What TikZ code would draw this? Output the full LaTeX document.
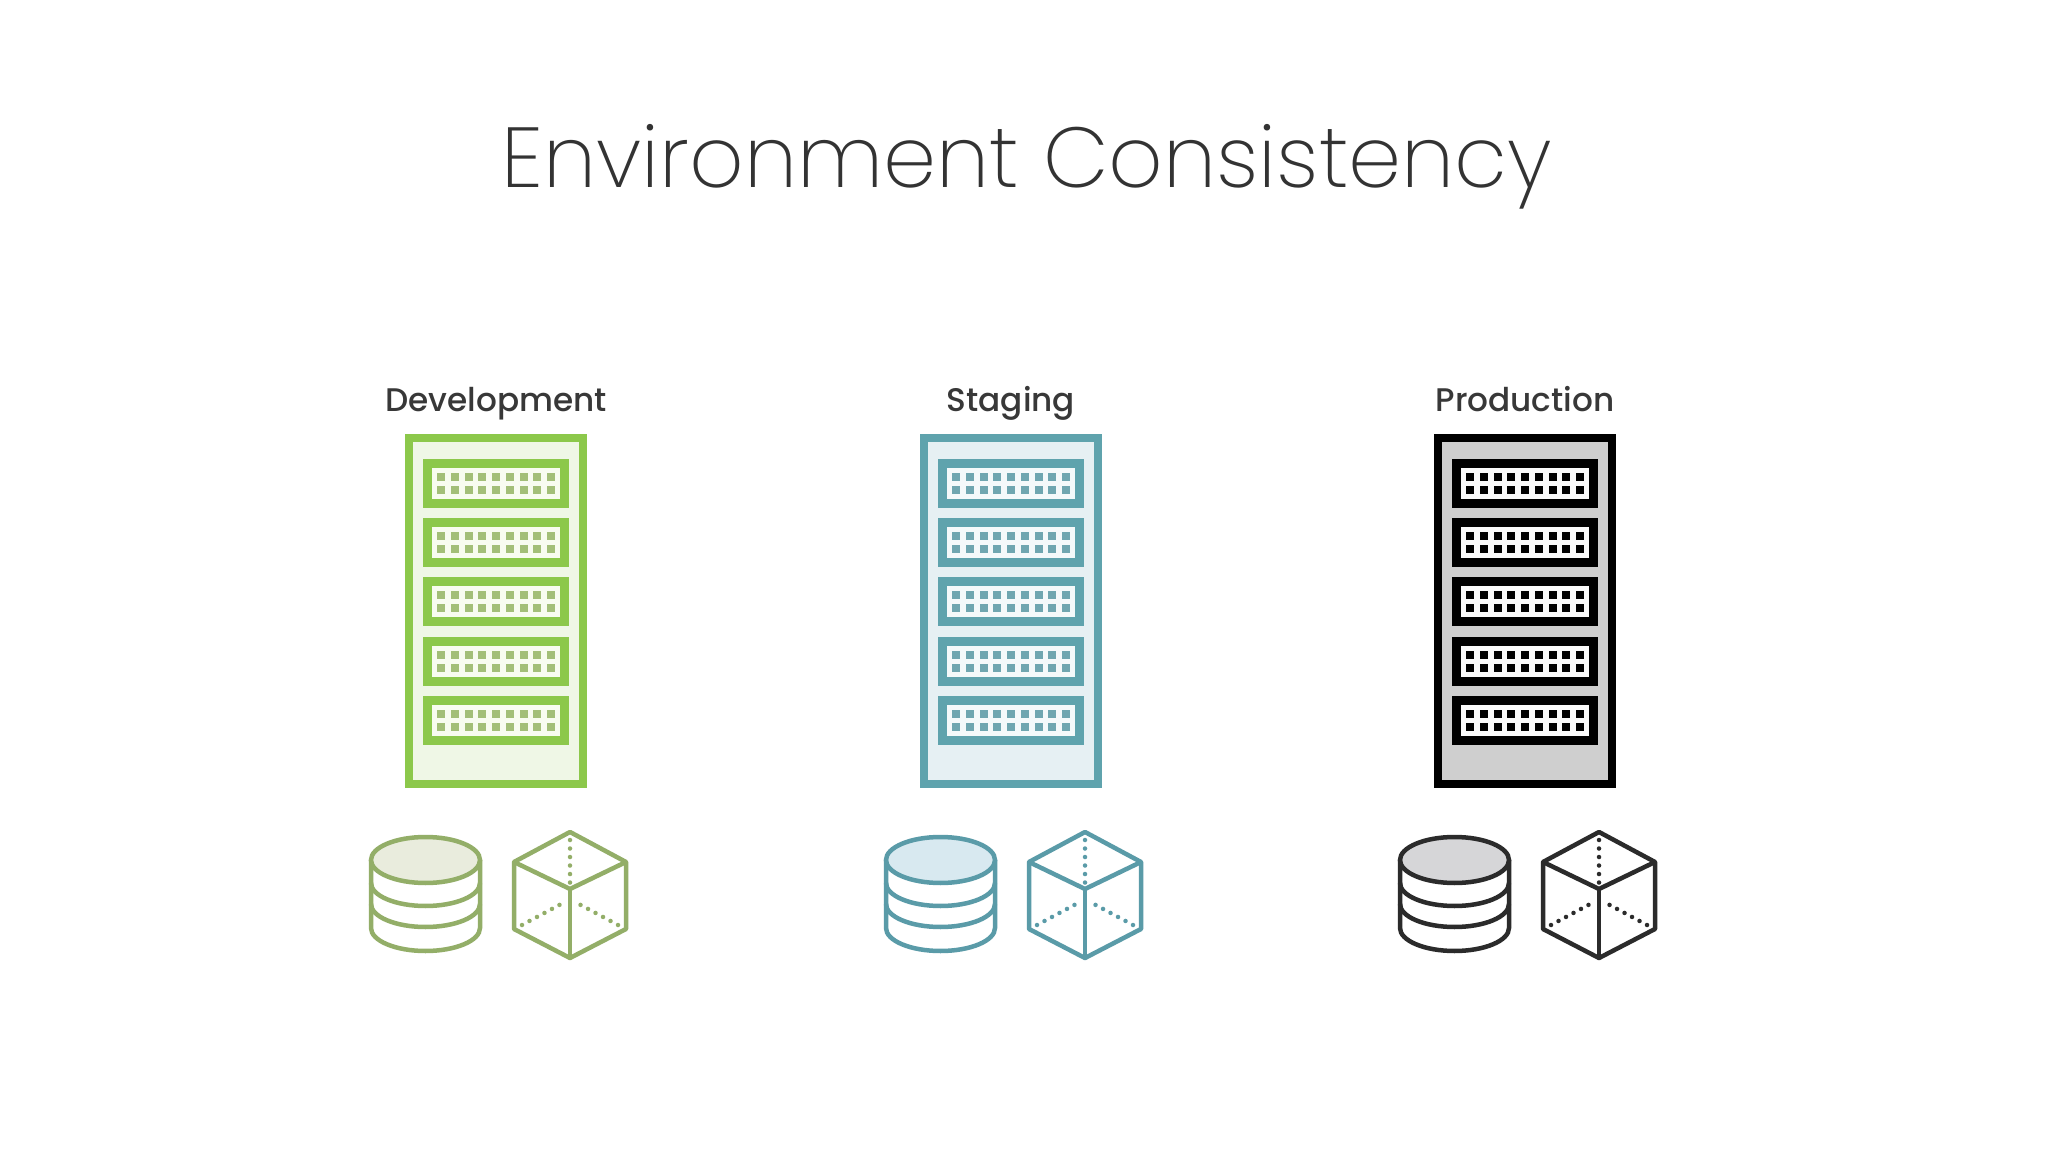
\documentclass[tikz,border=0pt]{standalone}
\usepackage{fontspec}
\setmainfont{Poppins}[UprightFont=* ExtraLight, BoldFont=* Medium]
\usepackage{xcolor}
\usetikzlibrary{arrows.meta}
\definecolor{devrack}{HTML}{8CC84B}
\definecolor{devfill}{HTML}{EFF7E6}
\definecolor{devslot}{HTML}{F8FCF0}
\definecolor{devdot}{HTML}{A3BF78}
\definecolor{devicon}{HTML}{93AE68}
\definecolor{devtop}{HTML}{E9ECDD}
\definecolor{stgrack}{HTML}{5FA3AD}
\definecolor{stgfill}{HTML}{E6F0F3}
\definecolor{stgslot}{HTML}{F4F9FA}
\definecolor{stgdot}{HTML}{6FA6B0}
\definecolor{stgicon}{HTML}{5A9BA8}
\definecolor{stgtop}{HTML}{D8E9F0}
\definecolor{prodrack}{HTML}{000000}
\definecolor{prodfill}{HTML}{CFCFCF}
\definecolor{prodslot}{HTML}{FAFAFA}
\definecolor{proddot}{HTML}{000000}
\definecolor{prodicon}{HTML}{2B2B2B}
\definecolor{prodtop}{HTML}{D6D6D8}
\definecolor{labeltext}{HTML}{383838}
\definecolor{titletext}{HTML}{333333}
\tikzset{
  headtitle/.style={anchor=base, inner sep=0pt, text=titletext, font=\fontsize{24.2}{28}\selectfont},
  envlabel/.style={anchor=base, inner sep=0pt, text=labeltext, font=\fontsize{9.3}{11}\selectfont\bfseries},
  portdots/.style={line width=0.045cm, line cap=round, dash pattern=on 0pt off 0.085cm},
}

\begin{document}
\begin{tikzpicture}[x=0.01cm, y=-0.01cm]
  % 1 unit = 1 pixel of the 2048 x 1152 frame
  \useasboundingbox (0,0) rectangle (2048,1152);
  \fill[white] (0,0) rectangle (2048,1152);

  \node[headtitle] (title) at (1027,188) {Environment Consistency};

  % One column per environment
  \foreach \cx/\lbl/\tag in {496/Development/dev, 1011/Staging/stg, 1525/Production/prod} {
    \node[envlabel] (label\tag) at (\cx,412) {\lbl};

    % Rack
    \draw[draw=\tag rack, fill=\tag fill, line width=0.08cm]
      (\cx-87,438) rectangle (\cx+87,784);

    % Five slots with two rows of ports
    \foreach \sy in {483.5, 542.7, 601.9, 661.1, 720.3} {
      \draw[draw=\tag rack, fill=\tag slot, line width=0.09cm]
        (\cx-68.5,\sy-20) rectangle (\cx+68.5,\sy+20);
      \foreach \px in {-4,...,4} {
        \foreach \py in {-6.5, 6.5} {
          \fill[\tag dot] ({\cx+\px*13.75-4},\sy+\py-4) rectangle ({\cx+\px*13.75+4},\sy+\py+4);
        }
      }
    }

    % Database
    \begin{scope}[shift={(\cx-70.5,0)}, line width=0.045cm]
      \draw[draw=\tag icon, fill=white] (-54.5,860) -- (-54.5,928)
        arc[start angle=180, end angle=360, x radius=54.5, y radius=-23] -- (54.5,860);
      \draw[draw=\tag icon] (-54.5,883) arc[start angle=180, end angle=360, x radius=54.5, y radius=-23];
      \draw[draw=\tag icon] (-54.5,904) arc[start angle=180, end angle=360, x radius=54.5, y radius=-23];
      \draw[draw=\tag icon, fill=\tag top] (0,860) ellipse[x radius=54.5, y radius=23];
    \end{scope}

    % Cube
    \begin{scope}[shift={(\cx+74,0)}, line width=0.045cm, line join=round]
      \draw[draw=\tag icon] (0,832) -- (56,862) -- (56,929) -- (0,958) -- (-56,929) -- (-56,862) -- cycle;
      \draw[draw=\tag icon] (-56,862) -- (0,889) -- (56,862);
      \draw[draw=\tag icon] (0,889) -- (0,958);
      \draw[draw=\tag icon, portdots] (0,840) -- (0,884);
      \draw[draw=\tag icon, portdots] (-48,925) -- (-7,903);
      \draw[draw=\tag icon, portdots] (48,925) -- (7,903);
    \end{scope}
  }
\end{tikzpicture}
\end{document}
